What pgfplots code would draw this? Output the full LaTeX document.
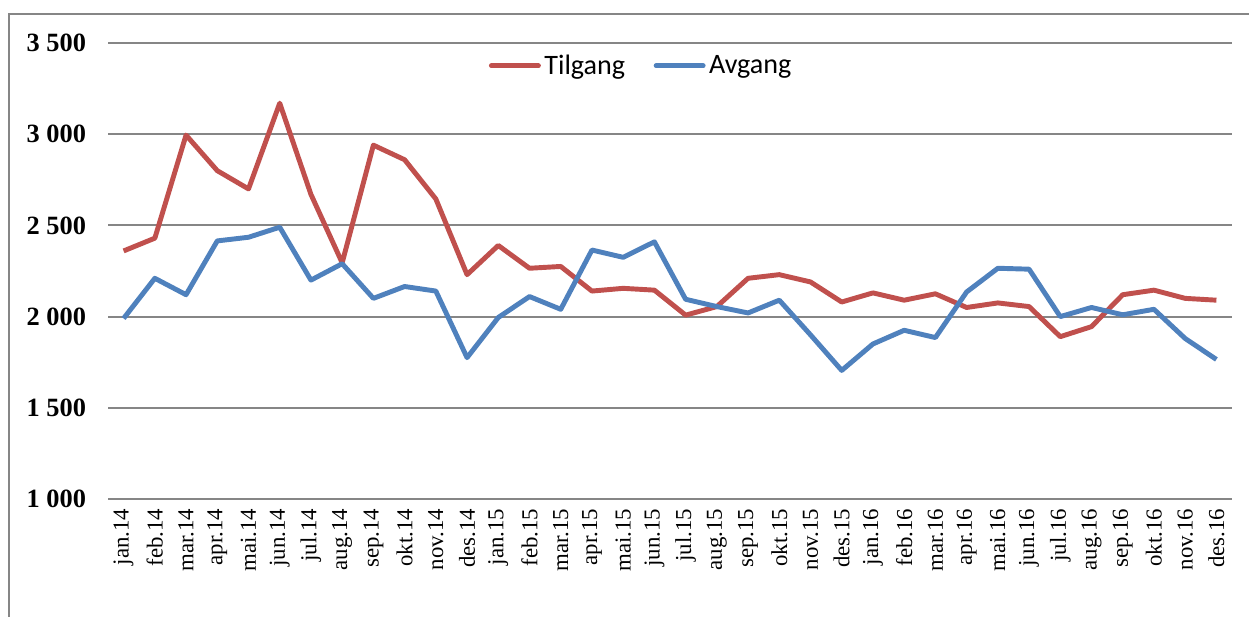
\documentclass[border=0pt]{standalone}
\usepackage{fontspec}
\setmainfont{Liberation Serif}
\newfontfamily\legendfont{Carlito}
\usepackage{pgfplots}
\pgfplotsset{compat=1.18}
\definecolor{tilred}{RGB}{192,80,77}
\definecolor{avgblue}{RGB}{79,129,189}
\definecolor{gridgray}{RGB}{134,134,134}

\pgfplotstableread{
idx tilgang avgang
0  2360 1990
1  2430 2210
2  2995 2120
3  2800 2415
4  2700 2435
5  3170 2490
6  2670 2200
7  2295 2290
8  2940 2100
9  2860 2165
10 2645 2140
11 2230 1775
12 2390 1995
13 2265 2110
14 2275 2040
15 2140 2365
16 2155 2325
17 2145 2410
18 2008 2095
19 2055 2055
20 2210 2020
21 2230 2090
22 2190 1900
23 2080 1705
24 2130 1850
25 2090 1925
26 2125 1885
27 2050 2135
28 2075 2265
29 2055 2260
30 1890 2000
31 1945 2050
32 2120 2010
33 2145 2040
34 2100 1880
35 2090 1765
}\flows

\begin{document}
\begin{tikzpicture}
% picture = 1249 x 616 px, 1 px = 0.02 cm
\useasboundingbox (0,0) rectangle (24.98cm,12.32cm);
\draw[gridgray, line width=1.1pt] (0.18cm,-0.1cm) -- (0.18cm,12.04cm) -- (25.2cm,12.04cm);
\begin{axis}[
  at={(2.16cm,2.34cm)}, anchor=south west,
  scale only axis,
  width=22.48cm, height=9.12cm,
  xmin=-0.5, xmax=35.5,
  ymin=1000, ymax=3500,
  ytick={1000,1500,2000,2500,3000,3500},
  yticklabels={1 000,1 500,2 000,2 500,3 000,3 500},
  yticklabel style={font=\fontsize{15}{18}\selectfont\bfseries, xshift=-9pt},
  xtick={0,...,35},
  xticklabels={jan.14,feb.14,mar.14,apr.14,mai.14,jun.14,jul.14,aug.14,sep.14,okt.14,nov.14,des.14,
    jan.15,feb.15,mar.15,apr.15,mai.15,jun.15,jul.15,aug.15,sep.15,okt.15,nov.15,des.15,
    jan.16,feb.16,mar.16,apr.16,mai.16,jun.16,jul.16,aug.16,sep.16,okt.16,nov.16,des.16},
  xticklabel style={font=\fontsize{13}{15}\selectfont, rotate=90, anchor=east, xshift=-2pt},
  axis line style={draw=none},
  major tick length=0pt,
  ymajorgrids=true,
  grid style={draw=gridgray, line width=1.1pt},
  clip=false,
  legend columns=2,
  legend style={draw=none, fill=none, font=\legendfont\fontsize{16}{19}\selectfont,
    at={(axis description cs:0.475,0.95)}, anchor=center,
    /tikz/every even column/.append style={column sep=0.5cm}},
  legend image code/.code={\draw[#1, line cap=round] (0cm,0cm) -- (0.94cm,0cm);},
]
\addplot[tilred, line width=2.8pt, line join=round] table[x=idx, y=tilgang] {\flows};
\addlegendentry{Tilgang}
\addplot[avgblue, line width=2.8pt, line join=round] table[x=idx, y=avgang] {\flows};
\addlegendentry{Avgang}
\end{axis}
\end{tikzpicture}
\end{document}
